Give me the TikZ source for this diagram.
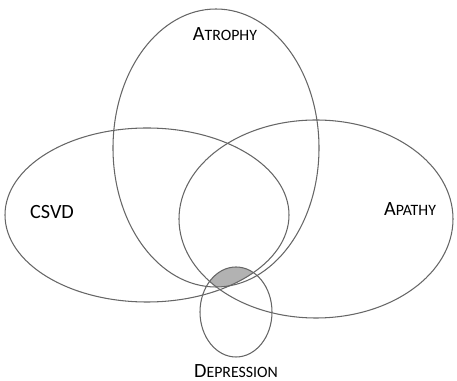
\documentclass[tikz,border=0pt]{standalone}
\usepackage{fontspec}
\setmainfont{Carlito}
\newcommand{\capsize}{\fontsize{11.5}{13}\selectfont}
\newcommand{\scsize}{\fontsize{9}{11}\selectfont}
\newcommand{\smallcap}[2]{{\capsize #1}{\scsize #2}}
\tikzset{
    venn/.style={draw=black!60, line width=0.6pt},
    vlabel/.style={inner sep=0pt, text=black}
}
\begin{document}
\begin{tikzpicture}[x=0.02cm, y=-0.02cm]
        \useasboundingbox (0,0) rectangle (457,381);

        % shaded overlap of all four sets
        \begin{scope}
            \clip (216,148) ellipse [x radius=103, y radius=139];
            \clip (147,215) ellipse [x radius=142, y radius=87];
            \clip (316,219) ellipse [x radius=137, y radius=99];
            \fill[black!30] (236,312) ellipse [x radius=36, y radius=45];
        \end{scope}

        \draw[venn] (216,148) ellipse [x radius=103, y radius=139];
        \draw[venn] (147,215) ellipse [x radius=142, y radius=87];
        \draw[venn] (316,219) ellipse [x radius=137, y radius=99];
        \draw[venn] (236,312) ellipse [x radius=36, y radius=45];

        \node [vlabel] (atrophy) at (225,34) {\smallcap{A}{TROPHY}};
        \node [vlabel] (csvd) at (52,212) {\capsize CSVD};
        \node [vlabel] (apathy) at (410,209) {\smallcap{A}{PATHY}};
        \node [vlabel] (depression) at (236,371) {\smallcap{D}{EPRESSION}};
    \end{tikzpicture}
\end{document}
